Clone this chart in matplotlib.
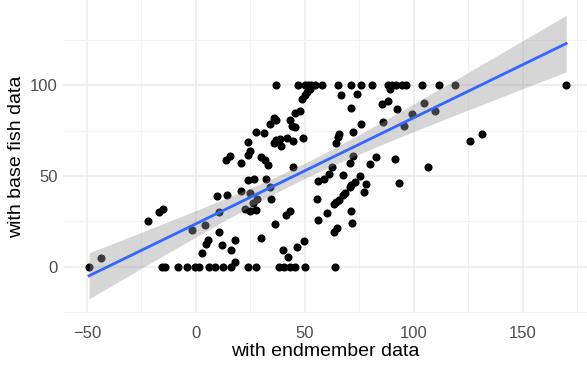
import numpy as np
import matplotlib
matplotlib.use("Agg")
import matplotlib.pyplot as plt

plt.rcParams['font.family'] = ['Liberation Sans', 'DejaVu Sans']

# values
endmember = np.array([
    -49, -43.7, -22, -16.8, -15, -1.7, 4.4, 10.7, 10.7, 5.6, 4.6, 3, 12, 16, 18, 18,
    -15.5, -14, -8, -4, -0.5, 1.5, 6, 9, 12.5, 16, 24, 27.5, 38.2, 40.4, 43.1, 45.4, 50, 64,
    44.6, 56, 24, 26.6, 32, 9.5, 14.5, 20.9, 24.8, 34, 34.3, 28, 26.3, 22.5, 24.8, 27.5,
    29.7, 36.2, 41.3, 43.1, 49.5, 46.2, 40, 42.4, 56, 55.4,
    36.7, 47, 51.5, 53, 54.6, 52.3, 50.8, 50, 48.9, 47.7, 45.4, 35.9, 37, 33.9, 43.1,
    44.3, 45.4, 27.5, 31.3, 24, 37, 38.5, 35.9, 39.3, 41.6, 44.6, 49.2, 24.8, 24, 15.6,
    13.6, 20.6, 30.1, 31.7, 33.1,
    50, 57.7, 65.3, 71, 75.7, 81, 88.2, 89.8, 92, 94.4, 96.6, 103.8, 111.6, 118.8, 170,
    89.3, 66.5, 74, 71, 85.6, 88.2, 92.4, 104.6, 109.6, 99.4, 85.9, 76, 95.4, 65.7, 65.3,
    72.2, 64.2, 72.2, 70.6, 79.8, 82.6, 91.3, 62.5, 106.6, 126, 131.5,
    61.2, 58.7, 67.6, 75.2, 78.3, 77, 73, 71.4, 70.6, 68.3, 67.6, 65.7, 64.5, 63.3, 93.3,
    60.2, 71.4, 71.7, 64.8, 63.3,
])
base_fish = np.array([
    0, 5, 25, 30, 32, 20, 23, 30, 19, 14.7, 12.5, 7.7, 12, 9, 14.7, 2.7,
    0, 0, 0, 0, 0, 0, 0, 0, 0, 0, 0, 0, 0, 0, 0, 0, 0, 0,
    54.7, 47.3, 47.7, 48.3, 48.3, 39, 39.3, 42, 40.4, 44, 37.6, 37.6, 34.9, 31.6, 30.8, 31.2,
    15.6, 23.5, 28.5, 30.8, 14.3, 10.7, 9.2, 5.5, 25.7, 37.6,
    100, 100, 100, 100, 100, 98.2, 96.3, 94.5, 92.7, 85.9, 84.8, 82, 80.7, 78.9, 80.7,
    77.4, 77, 74.3, 73.8, 68.5, 69.7, 70.3, 68.2, 66.4, 70.7, 69.2, 71, 63.8, 61.5, 60.9,
    58.7, 56.9, 60.2, 58.7, 56,
    100, 100, 100, 100, 100, 100, 100, 100, 100, 100, 100, 100, 100, 100, 100,
    98.2, 94.5, 95.4, 87.5, 89.9, 91.2, 87.2, 90.5, 86, 83.9, 79.5, 78.4, 77.4, 73, 71.5,
    74, 68.3, 60.9, 57.2, 56.4, 60.2, 59.6, 55, 55, 69.2, 72.9,
    51, 48.6, 50.5, 50.1, 45.5, 41.3, 46.8, 45, 44, 40.7, 39.8, 36.7, 35.4, 34.3, 46.2,
    29.7, 30.8, 24.2, 21.5, 19.3,
])

x_ticks = [-50, 0, 50, 100, 150]
y_ticks = [0, 50, 100]

# linear fit with 95% confidence band, like geom_smooth(method = "lm")
n = len(endmember)
slope, intercept = np.polyfit(endmember, base_fish, 1)
resid = base_fish - (intercept + slope * endmember)
s = np.sqrt(np.sum(resid ** 2) / (n - 2))
xbar = endmember.mean()
sxx = np.sum((endmember - xbar) ** 2)
xs = np.linspace(endmember.min(), endmember.max(), 200)
fit = intercept + slope * xs
se = s * np.sqrt(1.0 / n + (xs - xbar) ** 2 / sxx)
t975 = 1.975

fig = plt.figure(figsize=(5.87, 3.66), dpi=100)
ax = fig.add_axes([63 / 587, 53 / 366, 525 / 587, 313 / 366])

ax.scatter(endmember, base_fish, s=34, color='black', linewidths=0, zorder=2)
ax.fill_between(xs, fit - t975 * se, fit + t975 * se, color='#999999', alpha=0.4,
                linewidth=0, zorder=3)
ax.plot(xs, fit, color='#3366FF', lw=2.0, zorder=4)

ax.set_xlim(-61, 180)
ax.set_ylim(-25.5, 147)
ax.set_xticks(x_ticks)
ax.set_yticks(y_ticks)
ax.set_xticks([-25, 25, 75, 125, 175], minor=True)
ax.set_yticks([-25, 25, 75, 125], minor=True)
ax.grid(which='major', color='#EBEBEB', lw=1.1, zorder=0)
ax.grid(which='minor', color='#F3F3F3', lw=0.7, zorder=0)
ax.set_axisbelow(True)
for sp in ax.spines.values():
    sp.set_visible(False)
ax.tick_params(which='both', length=0, labelsize=12, labelcolor='#4D4D4D')
ax.tick_params(axis='x', pad=9)
ax.tick_params(axis='y', pad=4)

ax.set_xlabel('with endmember data', fontsize=14, color='black', labelpad=2)
ax.set_ylabel('with base fish data', fontsize=14, color='black', labelpad=3)

fig.savefig('out.png', dpi=100)
